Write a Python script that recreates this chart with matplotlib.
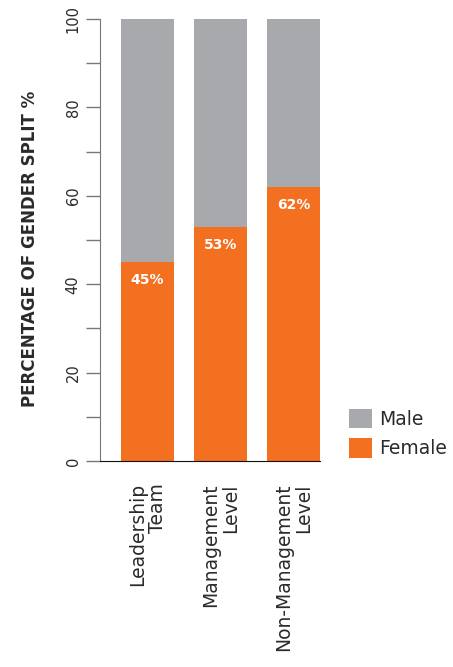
import matplotlib.pyplot as plt
import numpy as np

categories = ['Leadership\nTeam', 'Management\nLevel', 'Non-Management\nLevel']
female = [45, 53, 62]
male = [55, 47, 38]

orange = '#F37021'
grey = '#A7A9AC'

plt.rcParams['font.family'] = ['DejaVu Sans']

fig = plt.figure(figsize=(4.53, 6.67), dpi=100)
ax = fig.add_axes([100 / 453, 206 / 667, 220 / 453, 442 / 667])

x = np.arange(len(categories))
ax.bar(x, female, width=0.726, color=orange, label='Female')
ax.bar(x, male, width=0.726, bottom=female, color=grey, label='Male')

for xi, v in zip(x, female):
    ax.text(xi, v - 2.5, '{0:d}%'.format(v), ha='center', va='top',
            color='white', fontsize=10, fontweight='bold')

ax.set_xlim(-0.65, 2.363)
ax.set_ylim(0, 100)
ax.set_yticks(np.arange(0, 101, 20))
ax.set_yticks(np.arange(10, 100, 20), minor=True)
ax.tick_params(axis='y', which='both', length=10, color='#777777', width=1,
               labelsize=10.5, labelcolor='#2a2a2a', labelrotation=90, pad=4)
for lab in ax.get_yticklabels():
    lab.set_va('center')
ax.set_xticks(x)
ax.set_xticklabels(categories, rotation=90, ha='center', va='top',
                   multialignment='right', fontsize=13.5, color='#2a2a2a',
                   linespacing=1.1)
ax.tick_params(axis='x', length=0, pad=16)

ax.spines['top'].set_visible(False)
ax.spines['right'].set_visible(False)
ax.spines['left'].set_color('#777777')
ax.spines['bottom'].set_color('#111111')

ax.set_ylabel('PERCENTAGE OF GENDER SPLIT %', fontsize=12, fontweight='bold',
              color='#2a2a2a')
ax.yaxis.set_label_coords(-0.275, 0.48)

handles, labels = ax.get_legend_handles_labels()
fig.legend(handles[::-1], labels[::-1], loc='upper left',
           bbox_to_anchor=(349 / 453, 1 - 409 / 667), frameon=False,
           borderpad=0, borderaxespad=0,
           fontsize=13.5, handlelength=1.2, handleheight=1.2,
           handletextpad=0.4, labelspacing=0.5,
           labelcolor='#2a2a2a')

fig.savefig('out.png', dpi=100)
